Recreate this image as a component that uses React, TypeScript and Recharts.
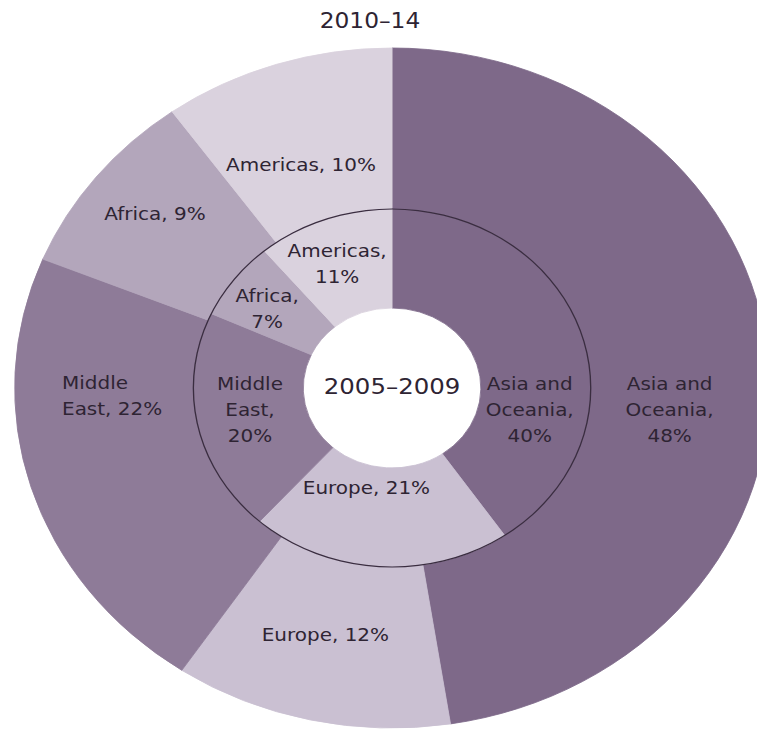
import React from 'react';
import { PieChart, Pie, Cell } from 'recharts';

// ---- data ----
const regions = ['Asia and Oceania', 'Europe', 'Middle East', 'Africa', 'Americas'];
const share2010to14 = [48, 12, 22, 9, 10];
const share2005to09 = [40, 21, 20, 7, 11];
const outerTitle = '2010–14';
const innerTitle = '2005–2009';
// label line templates ({v} = value with %)
const outerLabelLines = [['Asia and', 'Oceania,', '{v}'], ['Europe, {v}'], ['Middle', 'East, {v}'], ['Africa, {v}'], ['Americas, {v}']];
const innerLabelLines = [['Asia and', 'Oceania,', '{v}'], ['Europe, {v}'], ['Middle', 'East,', '{v}'], ['Africa,', '{v}'], ['Americas,', '{v}']];

// ---- styles / layout ----
const colors = ['#7e6989', '#cac0d2', '#8e7b98', '#b3a6bb', '#dad2de'];
const SX = 1.11;
const W = 690;
const H = 730;
const CX = 353.2;
const CY = 388;
const TEXT = '#2e2433';
const FONT = 'DejaVu Sans';
const outerPlace = [
  { r: 251, da: -9.4, anchor: 'middle' },
  { r: 254, da: -1.2, anchor: 'middle' },
  { r: 297.4, da: -15.6, anchor: 'start' },
  { r: 276, da: -1.0, anchor: 'middle' },
  { r: 238.5, da: 2.3, anchor: 'middle' },
];
const innerPlace = [
  { r: 125.8, da: -26.9, anchor: 'middle' },
  { r: 101.6, da: -9.5, anchor: 'middle' },
  { r: 129.7, da: -2.5, anchor: 'middle' },
  { r: 138, da: 1.9, anchor: 'middle' },
  { r: 134.4, da: 1.6, anchor: 'middle' },
];

const outerData = regions.map((name, i) => ({ name, value: share2010to14[i] }));
const innerData = regions.map((name, i) => ({ name, value: share2005to09[i] }));
const ringData = [{ name: 'ring', value: 1 }];

const makeLabel = (templates: string[][], place: any[], values: number[]) => (props: any) => {
  const { midAngle, index } = props;
  const cx = props.cx ?? CX;
  const cy = props.cy ?? CY;
  const p = place[index];
  const a = ((midAngle + p.da) * Math.PI) / 180;
  const x = cx + p.r * Math.cos(a);
  const y = cy - p.r * Math.sin(a);
  const lines = templates[index].map((l) => l.replace('{v}', `${values[index]}%`));
  return (
    <text
      x={x}
      y={y}
      textAnchor={p.anchor}
      fill={TEXT}
      fontFamily={FONT}
      fontSize={18}
      dominantBaseline="central"
    >
      {lines.map((l, i) => (
        <tspan key={i} x={x} y={y + (i - (lines.length - 1) / 2) * 26}>
          {l}
        </tspan>
      ))}
    </text>
  );
};

export default function App() {
  return (
    <div style={{ position: 'absolute', left: 0, top: 0, width: 757, height: 730, overflow: 'hidden', background: '#fff' }}>
      <div style={{ position: 'absolute', left: 0, top: 0, width: W, height: H, transform: `scaleX(${SX})`, transformOrigin: '0 0' }}>
        <PieChart width={W} height={H} margin={{ top: 0, right: 0, bottom: 0, left: 0 }}>
          <Pie
            data={outerData}
            dataKey="value"
            cx={CX}
            cy={CY}
            startAngle={90}
            endAngle={-270}
            innerRadius={179}
            outerRadius={340}
            isAnimationActive={false}
            labelLine={false}
            label={makeLabel(outerLabelLines, outerPlace, share2010to14)}
          >
            {outerData.map((d, i) => (
              <Cell key={d.name} fill={colors[i]} stroke={colors[i]} strokeWidth={0.8} />
            ))}
          </Pie>
          <Pie
            data={innerData}
            dataKey="value"
            cx={CX}
            cy={CY}
            startAngle={90}
            endAngle={-270}
            innerRadius={80}
            outerRadius={179}
            isAnimationActive={false}
            labelLine={false}
            label={makeLabel(innerLabelLines, innerPlace, share2005to09)}
          >
            {innerData.map((d, i) => (
              <Cell key={d.name} fill={colors[i]} stroke={colors[i]} strokeWidth={0.8} />
            ))}
          </Pie>
          <Pie
            data={ringData}
            dataKey="value"
            cx={CX}
            cy={CY}
            startAngle={90}
            endAngle={-270}
            innerRadius={178.4}
            outerRadius={179.6}
            isAnimationActive={false}
            stroke="none"
            fill="#3a2d40"
          />
        </PieChart>
        <svg width={W} height={H} style={{ position: 'absolute', left: 0, top: 0, pointerEvents: 'none' }}>
          <text x={333.3} y={20} textAnchor="middle" dominantBaseline="central" fill={TEXT} fontFamily={FONT} fontSize={21}>
            {outerTitle}
          </text>
          <text x={CX} y={CY - 2} textAnchor="middle" dominantBaseline="central" fill={TEXT} fontFamily={FONT} fontSize={22}>
            {innerTitle}
          </text>
        </svg>
      </div>
    </div>
  );
}
